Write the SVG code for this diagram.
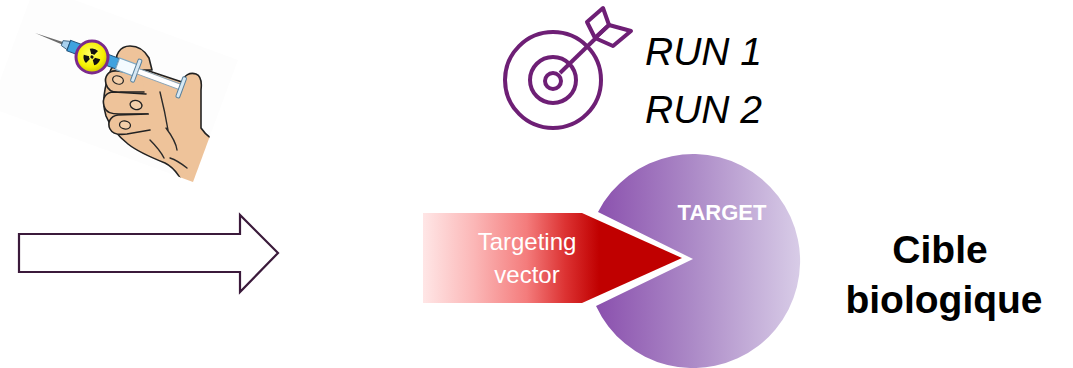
<svg xmlns="http://www.w3.org/2000/svg" width="1073" height="368" viewBox="0 0 1073 368">
  <style>
    .skin { fill: #eec39a; stroke: #222; stroke-width: 1.6; stroke-linejoin: round; stroke-linecap: round; }
    .crease { fill: none; stroke: #2a2a2a; stroke-width: 1.4; stroke-linecap: round; }
    .nail { fill: #f3cfaa; stroke: #222; stroke-width: 1.3; }
    .icon { fill: none; stroke: #6e1f75; stroke-width: 4; stroke-linejoin: round; }
    .run { font-family: "Liberation Sans", Arial, sans-serif; font-style: italic; font-size: 39px; fill: #000; }
    .label { font-family: "Liberation Sans", Arial, sans-serif; font-weight: bold; font-size: 39px; fill: #000; text-anchor: middle; }
    .inner { font-family: "Liberation Sans", Arial, sans-serif; fill: #fff; text-anchor: middle; }
  </style>
  <defs>
    <linearGradient id="redGrad" gradientUnits="userSpaceOnUse" x1="423" y1="0" x2="682" y2="0">
      <stop offset="0" stop-color="#ffe6e6"/>
      <stop offset="0.2" stop-color="#fbb6b6"/>
      <stop offset="0.4" stop-color="#f47c7c"/>
      <stop offset="0.55" stop-color="#dc3232"/>
      <stop offset="0.68" stop-color="#c00000"/>
      <stop offset="1" stop-color="#c00000"/>
    </linearGradient>
    <linearGradient id="purpleGrad" gradientUnits="userSpaceOnUse" x1="586" y1="0" x2="800" y2="0">
      <stop offset="0" stop-color="#874aab"/>
      <stop offset="0.5" stop-color="#ac8ac7"/>
      <stop offset="1" stop-color="#d8cce7"/>
    </linearGradient>
    <radialGradient id="badgeGrad" cx="0.45" cy="0.4" r="0.6">
      <stop offset="0" stop-color="#ffff66"/>
      <stop offset="0.7" stop-color="#f5f000"/>
      <stop offset="1" stop-color="#c9c200"/>
    </radialGradient>
    <clipPath id="cardClip">
      <polygon points="-10,107.5 193,182 238,60 35,-14.5"/>
    </clipPath>
    <path id="blade" d="M-4.25,-7.36 A8.5,8.5 0 0,1 4.25,-7.36 L1.5,-2.6 A3,3 0 0,0 -1.5,-2.6 Z"/>
  </defs>

  <!-- syringe held in a hand -->
  <g id="syringe-hand">
    <polygon points="-10,107.5 193,182 238,60 35,-14.5" fill="#fdfdfd"/>
    <g clip-path="url(#cardClip)">
      <!-- back of the hand, wrist and thumb -->
      <path class="skin" d="M110,72 C112,64 120,62 128,64 L182,82 C184,75 190,72 196,74 C201,76 202,82 201,90 L201,128 C206,136 214,142 230,150 L215,205 L190,200 C182,178 175,168 165,163 C150,157 138,152 128,144 C118,136 110,126 106,116 C102,104 104,88 110,72 Z"/>
      <path class="crease" d="M160,92 C163,104 166,118 168,130"/>
      <path class="crease" d="M166,128 C172,136 176,142 177,150"/>
      <path class="crease" d="M170,158 C176,160 182,164 187,168"/>
      <path class="crease" d="M150,140 C156,146 160,150 164,158"/>
    </g>
    <!-- index finger above the barrel -->
    <path class="skin" d="M117,66 C114,55 120,46 130,46 C139,46 145,51 149,58 L152,70 L120,70 Z"/>
    <!-- fingers curled under the barrel -->
    <path class="skin" d="M142,74 L117,71 C108,70 104,77 106,84 C108,91 114,93 121,92 L144,92"/>
    <ellipse class="nail" cx="118" cy="80" rx="5.5" ry="4" transform="rotate(20 118 80)"/>
    <path class="skin" d="M146,94 L114,92 C105,92 102,99 104,106 C106,113 112,114 119,114 L148,114"/>
    <ellipse class="nail" cx="136" cy="105" rx="6" ry="4.5" transform="rotate(15 136 105)"/>
    <path class="skin" d="M148,114 L118,115 C110,116 107,123 110,129 C113,135 120,135 127,134 L150,130"/>
    <ellipse class="nail" cx="125" cy="125" rx="5.5" ry="4" transform="rotate(10 125 125)"/>

    <!-- syringe body along its axis -->
    <g transform="translate(35,33) rotate(20.4)">
      <polygon points="0,0 30,-1.4 30,1.4" fill="#6b6b6b"/>
      <polygon points="29,-2.6 36,-4.5 36,4.5 29,2.6" fill="#a9d1ee" stroke="#2f5372" stroke-width="0.8"/>
      <rect x="36" y="-5.5" width="52" height="11" fill="#3fa2df" stroke="#1e4f78" stroke-width="1"/>
      <rect x="88" y="-6" width="19" height="12" fill="#f4fbff" stroke="#7fa9c4" stroke-width="1.2"/>
      <rect x="106" y="-12" width="4" height="24" rx="1.5" fill="#d6e8f4" stroke="#58809c" stroke-width="1"/>
      <rect x="110" y="-2.8" width="45" height="5.6" fill="#ffffff" stroke="#8aa3b4" stroke-width="1"/>
      <rect x="154" y="-11" width="4" height="22" rx="1.5" fill="#d6e8f4" stroke="#58809c" stroke-width="1"/>
    </g>

    <!-- radiation badge -->
    <g transform="translate(92,57)">
      <circle r="16" fill="url(#badgeGrad)" stroke="#7b2a8c" stroke-width="3"/>
      <g transform="rotate(15)" fill="#111">
        <use href="#blade"/>
        <use href="#blade" transform="rotate(120)"/>
        <use href="#blade" transform="rotate(240)"/>
        <circle r="1.6"/>
      </g>
    </g>
  </g>

  <!-- hollow arrow -->
  <g id="arrow">
    <path d="M19,234 L240,234 L240,215 L278,253 L240,292 L240,272 L19,272 Z" fill="#ffffff" stroke="#3b1a3b" stroke-width="2.2" stroke-linejoin="miter"/>
  </g>

  <!-- target icon -->
  <g id="target-icon">
    <circle class="icon" cx="553" cy="80" r="48"/>
    <circle class="icon" cx="553" cy="80" r="23"/>
    <circle class="icon" cx="553" cy="81" r="8"/>
    <line class="icon" x1="560" y1="73" x2="596" y2="38"/>
    <polygon class="icon" points="595,38 587,22 603,8 609,25"/>
    <polygon class="icon" points="595,38 609,25 631,31 613,46"/>
  </g>

  <g id="runs">
    <text class="run" x="645" y="65">RUN 1</text>
    <text class="run" x="645" y="123">RUN 2</text>
  </g>

  <!-- biological target (pie with a notch) -->
  <g id="target">
    <path d="M693,259 L598,212 A107,107 0 1,1 596,306 Z" fill="url(#purpleGrad)"/>
    <text class="inner" x="722" y="220" font-size="22" font-weight="bold">TARGET</text>
  </g>

  <!-- targeting vector -->
  <g id="vector">
    <path d="M423,213 L582,213 L682,258 L582,303 L423,303 Z" fill="url(#redGrad)"/>
    <text class="inner" x="527" y="250" font-size="24">Targeting</text>
    <text class="inner" x="527" y="283" font-size="24">vector</text>
  </g>

  <g id="cible">
    <text class="label" x="940" y="263">Cible</text>
    <text class="label" x="944" y="313">biologique</text>
  </g>
</svg>
